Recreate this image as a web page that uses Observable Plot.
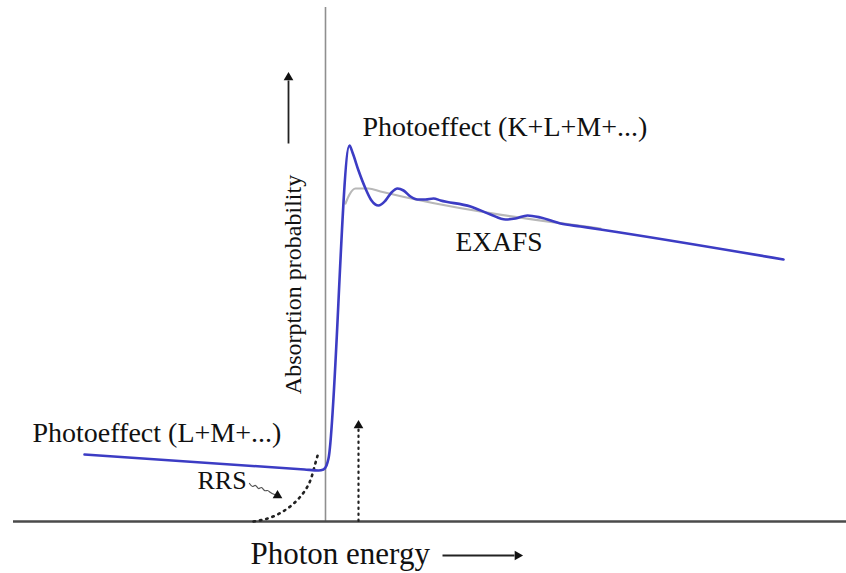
<!DOCTYPE html>
<html>
<head>
<meta charset="utf-8">
<script src="https://cdn.jsdelivr.net/npm/d3@7"></script>
<script src="https://cdn.jsdelivr.net/npm/@observablehq/plot@0.6"></script>
<style>
  html, body { margin: 0; padding: 0; background: #fff; }
  #chart svg { display: block; }
</style>
</head>
<body>
<div id="chart"></div>
<script>
// Measured absorption spectrum (arbitrary units: energy, absorption above baseline)
const measEnergy = [84, 304, 318, 323, 326, 328, 349, 352, 358, 365, 371, 378, 385, 391, 397, 403, 410, 417, 425, 433, 440, 470, 490, 505, 515, 527, 540, 560, 580, 600, 783];
const measAbsorb = [67, 52, 51, 52, 56, 63, 376, 369, 351, 333, 321, 316, 321, 329, 333, 331, 325, 322, 322, 323, 321, 315, 307, 302, 303, 306, 304, 298, 295, 292, 262];

// Smooth (atomic) background above the edge
const smoothEnergy = [345, 349, 355, 368, 380, 600];
const smoothAbsorb = [318, 327, 333, 333, 330, 293];

// RRS contribution (dotted)
const rrsEnergy = [253, 270, 287, 300, 309, 314, 318];
const rrsAbsorb = [0, 4, 13, 25, 39, 55, 69];

// Small wavy pointer from the RRS label
const squiggleEnergy = [249, 252, 255, 258, 261, 264, 267, 270, 274];
const squiggleAbsorb = [38, 35, 36, 33, 34, 31, 31, 29, 27];

// Edge energy and excitation (dotted arrow) energy
const edgeEnergy = 325;
const edgeTop = 514;
const excitationEnergy = 358;
const excitationTop = 93;

// Axes extents
const axisStart = 13, axisEnd = 846;

// Labels
const labels = [
  {text: "Photoeffect (K+L+M+...)", x: 362, y: 386, size: 28},
  {text: "Photoeffect (L+M+...)", x: 32, y: 80, size: 28},
  {text: "EXAFS", x: 455, y: 271, size: 27.5},
  {text: "RRS", x: 197, y: 33, size: 26},
  {text: "Photon energy", x: 250, y: -42, size: 31}
];
const yLabel = {text: "Absorption probability", x: 300, y: 237, size: 24};

// Direction arrows
const arrowShafts = [
  {x1: 288, y1: 378, x2: 288, y2: 441},
  {x1: 442, y1: -34, x2: 514, y2: -34}
];
const arrowHeads = [
  {x: 288, y: 444, rot: 0},
  {x: 517, y: -34, rot: 90},
  {x: excitationEnergy, y: 96, rot: 0},
  {x: 277, y: 26, rot: 120}
];

const meas = measEnergy.map((e, i) => ({e, a: measAbsorb[i]}));
const smooth = smoothEnergy.map((e, i) => ({e, a: smoothAbsorb[i]}));
const rrs = rrsEnergy.map((e, i) => ({e, a: rrsAbsorb[i]}));
const squiggle = squiggleEnergy.map((e, i) => ({e, a: squiggleAbsorb[i]}));

const serif = "'Liberation Serif', 'Times New Roman', serif";

const chart = Plot.plot({
  width: 846,
  height: 573,
  margin: 0,
  x: {domain: [0, 846], range: [0, 846], axis: null},
  y: {domain: [-52, 521], range: [573, 0], axis: null},
  marks: [
    Plot.ruleX([edgeEnergy], {y1: 0, y2: edgeTop, stroke: "#8f8f8f", strokeWidth: 1.6}),
    Plot.ruleY([0], {x1: axisStart, x2: axisEnd, stroke: "#4a4a4a", strokeWidth: 2.6}),
    Plot.line(rrs, {x: "e", y: "a", curve: "natural", stroke: "#222", strokeWidth: 2.6, strokeDasharray: "1.5,5", strokeLinecap: "round"}),
    Plot.ruleX([excitationEnergy], {y1: 0, y2: excitationTop, stroke: "#222", strokeWidth: 2.2, strokeDasharray: "1.5,4.5", strokeLinecap: "round"}),
    Plot.line(squiggle, {x: "e", y: "a", curve: "natural", stroke: "#555", strokeWidth: 1.2}),
    Plot.line(smooth, {x: "e", y: "a", curve: "monotone-x", stroke: "#b8b8b8", strokeWidth: 2.2}),
    Plot.line(meas, {x: "e", y: "a", curve: "monotone-x", stroke: "#3c3cc4", strokeWidth: 2.6}),
    Plot.link(arrowShafts, {x1: "x1", y1: "y1", x2: "x2", y2: "y2", stroke: "#222", strokeWidth: 1.8}),
    Plot.dot(arrowHeads, {x: "x", y: "y", symbol: "triangle", r: 3.6, rotate: "rot", fill: "#111", stroke: null}),
    Plot.text(labels, {x: "x", y: "y", text: "text", fontSize: "size", textAnchor: "start", lineAnchor: "bottom", fontFamily: serif, fill: "#111"}),
    Plot.text([yLabel], {x: "x", y: "y", text: "text", fontSize: yLabel.size, rotate: -90, textAnchor: "middle", lineAnchor: "bottom", fontFamily: serif, fill: "#111"})
  ]
});
document.getElementById("chart").appendChild(chart);
</script>
</body>
</html>
